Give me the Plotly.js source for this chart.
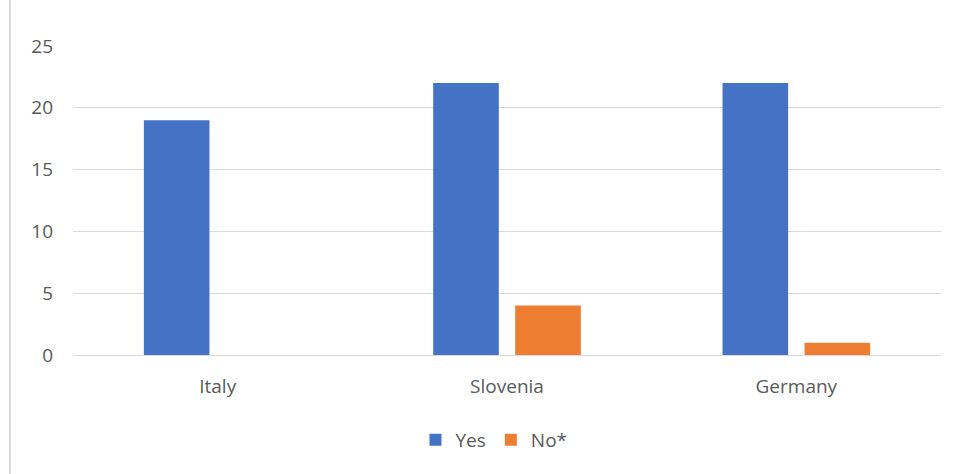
<!DOCTYPE html>
<html>
<head>
<meta charset="utf-8">
<script src="https://cdn.plot.ly/plotly-3.0.1.min.js"></script>
<style>html,body{margin:0;padding:0;background:#fff;}#chart{width:960px;height:474px;}</style>
</head>
<body>
<div id="chart"></div>
<script>
const categories = ["Italy", "Slovenia", "Germany"];
const yesValues = [19, 22, 22];
const noValues = [0, 4, 1];
const seriesNames = ["Yes", "No*"];

const traces = [
  {type: "bar", name: seriesNames[0], x: categories, y: yesValues, marker: {color: "#4472C4"}, hoverinfo: "x+y"},
  {type: "bar", name: seriesNames[1], x: categories, y: noValues, marker: {color: "#ED7D31"}, hoverinfo: "x+y"}
];

const layout = {
  width: 960, height: 474,
  margin: {l: 73, r: 19, t: 46, b: 119},
  paper_bgcolor: "#ffffff", plot_bgcolor: "#ffffff",
  font: {family: "'Open Sans', 'Noto Sans', sans-serif", size: 19, color: "#595959"},
  barmode: "group", bargap: 0.433, bargroupgap: 0.2,
  xaxis: {showgrid: false, zeroline: false, showline: true, linecolor: "#d9d9d9", linewidth: 1, ticks: "", tickfont: {size: 19, color: "#595959"}, ticklabelstandoff: 14, fixedrange: true},
  yaxis: {range: [0, 25], dtick: 5, showgrid: true, gridcolor: "#d9d9d9", gridwidth: 1, zeroline: false, showline: false, ticks: "", tickfont: {size: 19, color: "#595959"}, ticklabelstandoff: 19, fixedrange: true},
  showlegend: true,
  legend: {orientation: "h", x: 0.485, xanchor: "center", y: -0.275, yanchor: "middle", font: {size: 19, color: "#595959"}, itemwidth: 30, traceorder: "normal"},
  shapes: [{type: "line", xref: "paper", yref: "paper", x0: -0.0727, x1: -0.0727, y0: -0.4, y1: 1.16, line: {color: "#d9d9d9", width: 2}}]
};

Plotly.newPlot("chart", traces, layout, {displayModeBar: false, staticPlot: true});
</script>
</body>
</html>
